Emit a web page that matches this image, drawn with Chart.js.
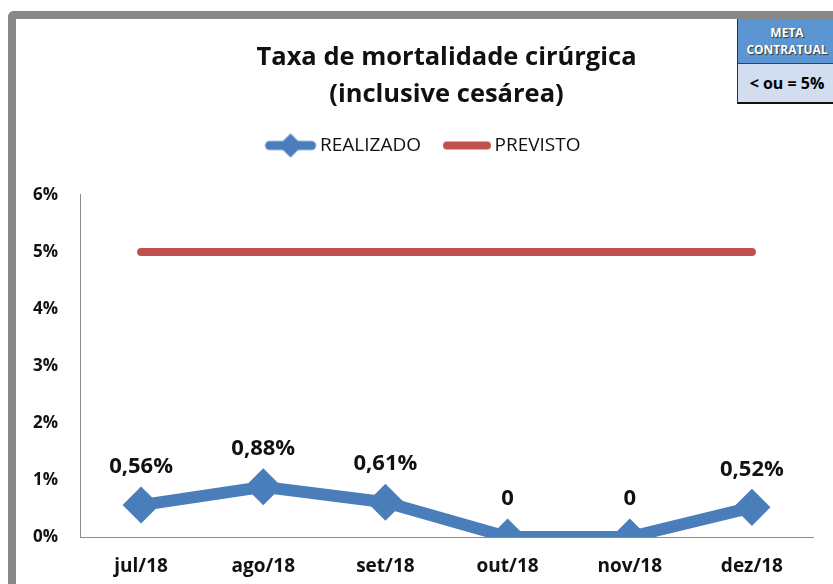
<!DOCTYPE html>
<html lang="pt">
<head>
    <meta charset="UTF-8">
    <title>Taxa de mortalidade cirúrgica</title>
    <script src="https://cdn.jsdelivr.net/npm/chart.js"></script>
    <style>
        body {
            margin: 0;
            background: #fff;
            font-family: "Open Sans", sans-serif;
        }

        .wrap {
            position: relative;
            width: 833px;
            height: 584px;
            overflow: hidden;
        }

        .frame {
            position: absolute;
            left: 8px;
            top: 11px;
            width: 900px;
            height: 700px;
            border-left: 8px solid #888;
            border-top: 8px solid #888;
            border-top-left-radius: 6px;
        }

        canvas {
            position: absolute;
            left: 0;
            top: 0;
        }

        .meta {
            position: absolute;
            left: 737px;
            top: 19px;
            width: 98px;
            border-left: 1px solid #333;
            border-bottom: 2px solid #111;
            text-align: center;
            font-weight: bold;
        }

        .meta .head {
            background: #5b96d3;
            color: #fff;
            height: 45px;
            font-size: 12px;
            line-height: 17px;
            padding-top: 5px;
            box-sizing: border-box;
            text-shadow: 1px 1px 1px #333;
            border-bottom: 1px solid #345;
        }

        .meta .val {
            background: #d2ddef;
            color: #000;
            height: 38px;
            line-height: 38px;
            font-size: 16px;
        }
    </style>
</head>
<body>
    <div class="wrap">
        <div class="frame"></div>
        <canvas id="chart" width="833" height="584"></canvas>
        <div class="meta">
            <div class="head">META<br>CONTRATUAL</div>
            <div class="val">&lt; ou = 5%</div>
        </div>
    </div>

    <script>
        // chart data
        const months = ["jul/18", "ago/18", "set/18", "out/18", "nov/18", "dez/18"];
        const realizado = [0.56, 0.88, 0.61, 0, 0, 0.52];
        const previsto = [5, 5, 5, 5, 5, 5];
        const yTicks = [0, 1, 2, 3, 4, 5, 6];

        const blue = "#4a7ebb";
        const red = "#c0504d";

        // legend symbols: line with diamond / plain line
        function legendIcon(color, width, x0, x1, diamond) {
            const c = document.createElement("canvas");
            c.width = 62;
            c.height = 30;
            const g = c.getContext("2d");
            g.strokeStyle = color;
            g.lineWidth = width;
            g.lineCap = "round";
            g.beginPath();
            g.moveTo(x0, 15);
            g.lineTo(x1, 15);
            g.stroke();
            if (diamond) {
                const cx = (x0 + x1) / 2;
                g.fillStyle = color;
                g.beginPath();
                g.moveTo(cx, 3);
                g.lineTo(cx + 12, 15);
                g.lineTo(cx, 27);
                g.lineTo(cx - 12, 15);
                g.closePath();
                g.fill();
            }
            return c;
        }
        const iconReal = legendIcon(blue, 9, 12, 54, true);
        const iconPrev = legendIcon(red, 8, 15, 55, false);

        function fmt(v) {
            return v === 0 ? "0" : v.toFixed(2).replace(".", ",") + "%";
        }

        // value labels above the blue points
        const valueLabels = {
            id: "valueLabels",
            afterDatasetsDraw(chart) {
                const meta = chart.getDatasetMeta(0);
                const ctx = chart.ctx;
                ctx.save();
                ctx.font = "bold 22px 'Open Sans'";
                ctx.fillStyle = "#111";
                ctx.textAlign = "center";
                ctx.textBaseline = "middle";
                meta.data.forEach((pt, i) => {
                    ctx.fillText(fmt(realizado[i]), pt.x, pt.y - 38);
                });
                ctx.restore();
            }
        };

        // extra room under the legend
        const legendGap = {
            id: "legendGap",
            beforeLayout(chart) {
                const lg = chart.legend;
                if (lg && !lg._gap) {
                    const fit = lg.fit;
                    lg.fit = function () {
                        fit.call(this);
                        this.height += 30;
                    };
                    lg._gap = true;
                }
            }
        };

        new Chart(document.getElementById("chart"), {
            type: "line",
            data: {
                labels: months,
                datasets: [
                    {
                        label: "REALIZADO",
                        data: realizado,
                        borderColor: blue,
                        backgroundColor: blue,
                        borderWidth: 12,
                        borderJoinStyle: "round",
                        pointStyle: "rectRot",
                        pointRadius: 15,
                        pointBorderWidth: 5,
                        pointBorderColor: blue,
                        pointBackgroundColor: blue,
                        fill: false
                    },
                    {
                        label: "PREVISTO",
                        data: previsto,
                        borderColor: red,
                        backgroundColor: red,
                        borderWidth: 8,
                        borderCapStyle: "round",
                        pointRadius: 0,
                        fill: false
                    }
                ]
            },
            options: {
                responsive: false,
                animation: false,
                layout: {
                    padding: { top: 20, left: 28, right: 14, bottom: 6 }
                },
                plugins: {
                    title: {
                        display: true,
                        fullSize: false,
                        text: ["Taxa de mortalidade cirúrgica", "(inclusive cesárea)"],
                        color: "#111",
                        font: { family: "Open Sans", size: 25.5, weight: "bold", lineHeight: 1.45 },
                        padding: { top: 19, bottom: 3 }
                    },
                    legend: {
                        display: true,
                        labels: {
                            usePointStyle: true,
                            pointStyleWidth: 44,
                            padding: 20,
                            color: "#111",
                            font: { family: "Open Sans", size: 19 },
                            generateLabels: () => [
                                { text: "REALIZADO", pointStyle: iconReal, datasetIndex: 0, fontColor: "#111", lineWidth: 0 },
                                { text: "PREVISTO", pointStyle: iconPrev, datasetIndex: 1, fontColor: "#111", lineWidth: 0 }
                            ]
                        }
                    },
                    tooltip: { enabled: false }
                },
                scales: {
                    x: {
                        offset: true,
                        afterFit: s => { s.height = 41; },
                        grid: { display: false, drawTicks: false },
                        border: { color: "#8c8c8c", width: 1 },
                        ticks: {
                            padding: 18,
                            color: "#111",
                            font: { family: "Open Sans", size: 19, weight: "bold" }
                        }
                    },
                    y: {
                        min: yTicks[0],
                        max: yTicks[yTicks.length - 1],
                        afterFit: s => { s.width = 52; },
                        grid: { display: false, drawTicks: false },
                        border: { color: "#8c8c8c", width: 1 },
                        ticks: {
                            stepSize: 1,
                            padding: 22,
                            color: "#111",
                            font: { family: "Open Sans", size: 17, weight: "bold" },
                            callback: v => v + "%"
                        }
                    }
                }
            },
            plugins: [valueLabels, legendGap]
        });
    </script>
</body>
</html>
